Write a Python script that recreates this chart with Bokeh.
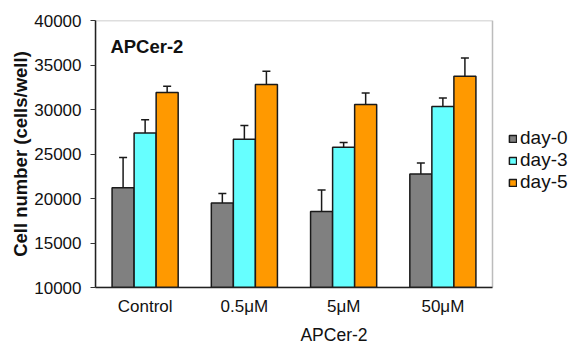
from bokeh.plotting import figure
from bokeh.models import (ColumnDataSource, Range1d, SingleIntervalTicker, FixedTicker,
                          Whisker, TeeHead, Legend, LegendItem, Label, LinearAxis, BoxAnnotation)
from bokeh.embed import file_html
from bokeh.resources import INLINE

categories = ["Control", "0.5\u03bcM", "5\u03bcM", "50\u03bcM"]
series = ["day-0", "day-3", "day-5"]
day0 = [21200, 19500, 18550, 22750]
day3 = [27350, 26650, 25750, 30350]
day5 = [31900, 32800, 30550, 33750]
day0_err = [3400, 1050, 2400, 1250]
day3_err = [1500, 1550, 550, 950]
day5_err = [700, 1500, 1300, 2050]
colors = ["#808080", "#66FFFF", "#FF9900"]
y_min, y_max, y_step = 10000, 40000, 5000

FONT = "Liberation Sans"
n = len(categories)
x_extra = 0.806  # room right of the plot box for the legend

p = figure(x_range=Range1d(0, n + x_extra), y_range=Range1d(y_min, y_max),
           width=572, height=347, output_backend="svg", toolbar_location=None,
           min_border_left=95, min_border_top=20, min_border_right=0, min_border_bottom=60)
p.background_fill_color = "white"
p.border_fill_color = "white"
p.outline_line_color = None
p.xgrid.visible = False
p.ygrid.visible = False

centers = [i + 0.5 for i in range(n)]
bw = 0.222
offsets = [-bw, 0.0, bw]
src = ColumnDataSource(dict(xc=centers, d0=day0, d3=day3, d5=day5,
                            d0u=[v + e for v, e in zip(day0, day0_err)],
                            d3u=[v + e for v, e in zip(day3, day3_err)],
                            d5u=[v + e for v, e in zip(day5, day5_err)]))
for j, off in enumerate(offsets):
    src.data["x%d" % j] = [c + off for c in centers]

# plot box
p.add_layout(BoxAnnotation(left=0, right=n, bottom=y_min, top=y_max, fill_alpha=0,
                           line_color="#222222", line_width=1.5, level="overlay"))

keys = [("d0", "d0u"), ("d3", "d3u"), ("d5", "d5u")]
renderers = []
for j, ((k, ku), col) in enumerate(zip(keys, colors)):
    r = p.vbar(x="x%d" % j, top=k, bottom=y_min, width=bw,
               source=src, fill_color=col, line_color="#1a1a1a", line_width=1.5)
    renderers.append(r)
    w = Whisker(source=src, base="x%d" % j, lower=k, upper=ku,
                dimension="height", line_color="#1a1a1a", line_width=1.5,
                upper_head=TeeHead(size=8, line_color="#1a1a1a", line_width=1.5),
                lower_head=None, level="overlay")
    p.add_layout(w)

# y axis
p.yaxis.ticker = SingleIntervalTicker(interval=y_step)
p.yaxis.minor_tick_line_color = None
p.yaxis.major_tick_in = 0
p.yaxis.major_tick_out = 5
p.yaxis.major_tick_line_color = "#333333"
p.yaxis.axis_line_color = "#222222"
p.yaxis.axis_line_width = 1.5
p.yaxis.major_label_text_font = FONT
p.yaxis.major_label_text_font_size = "17px"
p.yaxis.major_label_text_color = "#111111"
p.yaxis.major_label_standoff = 9
p.yaxis.axis_label = "Cell number (cells/well)"
p.yaxis.axis_label_text_font = FONT
p.yaxis.axis_label_text_font_size = "18.5px"
p.yaxis.axis_label_text_font_style = "bold"
p.yaxis.axis_label_text_color = "#111111"
p.yaxis.axis_label_standoff = 0

# x axis
xa = p.xaxis[0]
xa.ticker = FixedTicker(ticks=centers)
xa.major_label_overrides = {c: lab for c, lab in zip(centers, categories)}
xa.bounds = (0, n)
xa.major_tick_line_color = None
xa.minor_tick_line_color = None
xa.axis_line_color = "#222222"
xa.axis_line_width = 1.5
xa.major_label_text_font = FONT
xa.major_label_text_font_size = "17px"
xa.major_label_text_color = "#111111"
xa.major_label_standoff = 3

# x-axis title (placed off-centre, as in the original)
tax = LinearAxis(bounds=(1.0, 4.0), ticker=FixedTicker(ticks=[]),
                 axis_line_color=None, major_tick_line_color=None, minor_tick_line_color=None,
                 major_label_text_font_size="0px", axis_label="APCer-2",
                 axis_label_text_font=FONT, axis_label_text_font_size="17.5px",
                 axis_label_text_font_style="normal", axis_label_text_color="#111111",
                 axis_label_standoff=6)
p.add_layout(tax, "below")

p.add_layout(Label(x=0.15, y=38300, text="APCer-2", text_font=FONT, text_font_size="18.5px",
                   text_font_style="bold", text_color="#111111", text_baseline="top"))

legend = Legend(items=[LegendItem(label=s, renderers=[r]) for s, r in zip(series, renderers)],
                location=(413, 94), orientation="vertical",
                glyph_width=9, glyph_height=9, label_standoff=3, spacing=0,
                label_height=21, padding=0, margin=0,
                label_text_font=FONT, label_text_font_size="19px", label_text_color="#111111",
                label_text_line_height=1.0,
                border_line_color=None, background_fill_alpha=0)
p.add_layout(legend, "center")

open("out.html", "w").write(file_html(p, INLINE))
